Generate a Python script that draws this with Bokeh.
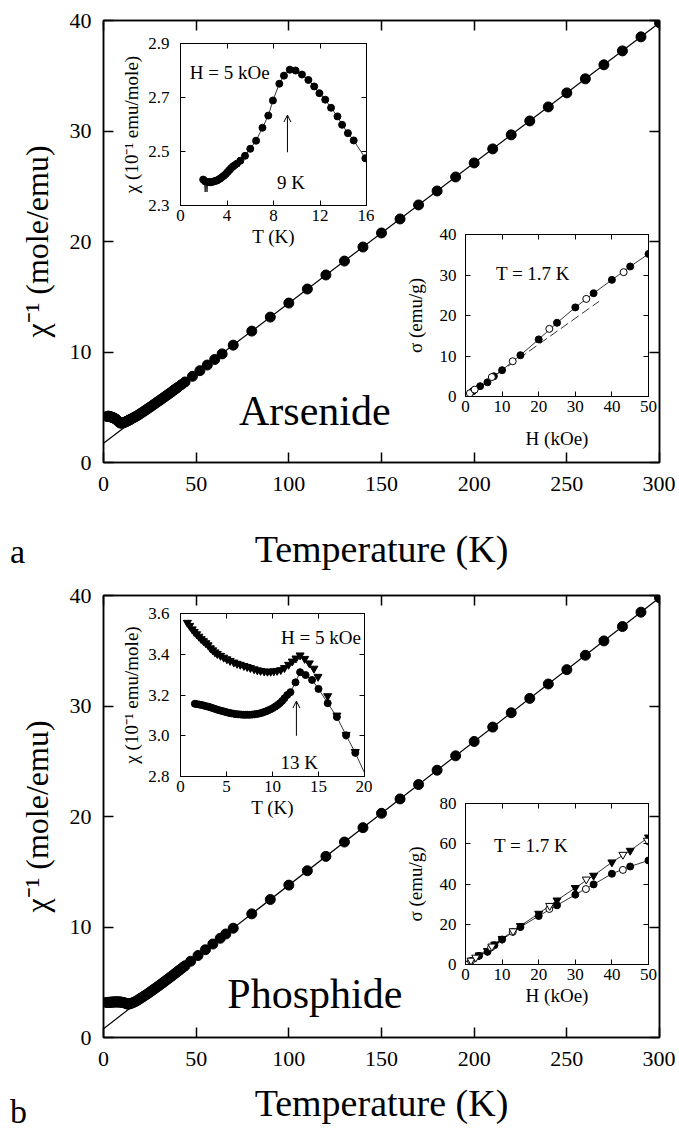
from bokeh.plotting import figure
from bokeh.models import (Range1d, FixedTicker, LinearAxis, Label, Arrow, OpenHead,
                          GridBox, PrintfTickFormatter, Div)
from bokeh.embed import file_html
from bokeh.resources import INLINE

SERIF = "Liberation Serif"

# ---------------- data: panel a (arsenide) ----------------
a_T = [1.9, 2.2, 2.5, 2.8, 3.2, 3.6, 4.0, 4.5, 5.0, 5.5, 6.0, 6.5, 7.0, 7.5, 8.0, 8.5, 9.0, 9.5,
       10.0, 10.5, 11.0, 11.5, 12.0, 12.5, 13.0, 13.5, 14.0, 14.5, 15.0, 16.0, 17, 18, 19, 20,
       21, 22, 23, 24, 25, 26, 27, 28, 29, 30, 31, 32, 33, 34, 35, 36, 37, 38, 39, 40, 42, 44,
       48, 52, 56, 60, 64, 70, 80, 90, 100, 110, 120, 130, 140, 150, 160, 170, 180, 190, 200,
       210, 220, 230, 240, 250, 260, 270, 280, 290, 300]
a_inv = [4.17, 4.18, 4.19, 4.18, 4.17, 4.15, 4.12, 4.10, 4.07, 4.03, 3.98, 3.94, 3.87, 3.80,
         3.72, 3.64, 3.58, 3.57, 3.57, 3.59, 3.62, 3.65, 3.68, 3.72, 3.76, 3.80, 3.85, 3.90,
         3.94, 4.04, 4.12, 4.22, 4.32, 4.43, 4.54, 4.65, 4.77, 4.88, 5.00, 5.11, 5.23, 5.35,
         5.47, 5.58, 5.70, 5.82, 5.94, 6.06, 6.18, 6.30, 6.42, 6.55, 6.67, 6.79, 7.04, 7.29,
         7.80, 8.31, 8.82, 9.32, 9.83, 10.62, 11.89, 13.16, 14.43, 15.70, 16.97, 18.23, 19.50,
         20.77, 22.04, 23.31, 24.57, 25.84, 27.11, 28.38, 29.65, 30.91, 32.18, 33.45, 34.72,
         35.99, 37.25, 38.52, 39.79]
a_fit_T = [0, 300]
a_fit_inv = [1.75, 39.79]

# inset a1: chi vs T at H = 5 kOe
a1_T = [1.95, 2.1, 2.25, 2.4, 2.55, 2.7, 2.85, 3.0, 3.15, 3.3, 3.45, 3.6, 3.75, 3.9, 4.05, 4.2,
        4.35, 4.5, 4.65, 4.85, 5.15, 5.55, 6.0, 6.5, 7.05, 7.55, 7.95, 8.5, 8.9, 9.4, 9.9,
        10.45, 11.0, 11.5, 11.95, 12.45, 12.95, 13.5, 13.9, 14.4, 14.9, 15.9]
a1_chi = [2.396, 2.390, 2.388, 2.387, 2.386, 2.387, 2.389, 2.391, 2.393, 2.397, 2.401, 2.406,
          2.411, 2.417, 2.424, 2.431, 2.438, 2.444, 2.449, 2.455, 2.466, 2.484, 2.510, 2.540,
          2.588, 2.633, 2.689, 2.751, 2.781, 2.803, 2.800, 2.785, 2.765, 2.741, 2.716, 2.692,
          2.662, 2.630, 2.599, 2.568, 2.541, 2.475]
a1_glitch_T = [2.05, 2.12, 2.2, 2.28, 2.36]
a1_glitch_chi = [2.39, 2.35, 2.388, 2.35, 2.387]

# inset a2: sigma vs H at 1.7 K
a2_H_f = [0, 2, 4.0, 6.0, 7.75, 10, 15, 20, 25, 30, 35, 40, 45, 50]
a2_s_f = [0, 1.3, 2.55, 3.5, 5.0, 6.5, 10.2, 14.1, 18.2, 22.0, 25.5, 28.8, 32.1, 35.2]
a2_H_o = [0, 1.2, 2.5, 7.2, 12.9, 22.9, 33.0, 43.2]
a2_s_o = [0, 0.8, 1.7, 4.8, 8.7, 16.7, 24.1, 30.7]
a2_dash_H = [0, 36.5]
a2_dash_s = [0, 23.5]

# ---------------- data: panel b (phosphide) ----------------
b_T = [1.6, 2.0, 2.5, 3.0, 3.5, 4.0, 4.5, 5.0, 5.5, 6.0, 6.5, 7.0, 7.5, 8.0, 8.5, 9.0, 9.5,
       10.0, 10.5, 11.0, 11.5, 12.0, 12.5, 13.0, 13.5, 14.0, 14.5, 15.0, 16, 17, 18, 19, 20,
       21, 22, 23, 24, 25, 26, 27, 28, 29, 30, 31, 32, 33, 34, 35, 36, 37, 38, 39, 40, 41,
       42, 43, 44, 47, 51, 55, 59, 63, 66, 70, 80, 90, 100, 110, 120, 130, 140, 150, 160,
       170, 180, 190, 200, 210, 220, 230, 240, 250, 260, 270, 280, 290, 300]
b_inv = [3.17, 3.17, 3.18, 3.18, 3.19, 3.20, 3.20, 3.21, 3.21, 3.22, 3.22, 3.22, 3.22, 3.22,
         3.21, 3.21, 3.20, 3.19, 3.17, 3.15, 3.12, 3.10, 3.06, 3.02, 3.03, 3.05, 3.07, 3.10,
         3.16, 3.24, 3.33, 3.43, 3.55, 3.65, 3.76, 3.87, 3.98, 4.10, 4.22, 4.34, 4.46, 4.58,
         4.70, 4.82, 4.95, 5.07, 5.20, 5.32, 5.45, 5.58, 5.71, 5.84, 5.97, 6.10, 6.23, 6.36,
         6.49, 6.90, 7.42, 7.94, 8.46, 8.98, 9.37, 9.89, 11.19, 12.49, 13.79, 15.09, 16.39,
         17.69, 18.99, 20.29, 21.59, 22.89, 24.19, 25.49, 26.79, 28.09, 29.39, 30.69, 31.99,
         33.29, 34.59, 35.89, 37.19, 38.49, 39.79]
b_fit_T = [0, 300]
b_fit_inv = [0.79, 39.79]

# inset b1: chi vs T at H = 5 kOe (two data sets)
b1_T_tri = [0.75, 1.0, 1.27, 1.5, 1.75, 2.0, 2.25, 2.5, 2.75, 3.0, 3.25, 3.5, 3.75, 4.0, 4.35,
            4.7, 5.05, 5.4, 5.8, 6.15, 6.5, 6.9, 7.25, 7.6, 8.0, 8.35, 8.7, 9.1, 9.45, 9.8,
            10.15, 10.5, 10.9, 11.3, 11.75, 12.15, 12.55, 13.0, 13.5, 14.0, 14.5, 14.95,
            16.0, 17.0, 18.0, 19.0]
b1_chi_tri = [3.555, 3.540, 3.523, 3.510, 3.499, 3.487, 3.475, 3.465, 3.455, 3.445, 3.430,
              3.420, 3.410, 3.402, 3.393, 3.384, 3.376, 3.368, 3.360, 3.354, 3.349, 3.343,
              3.338, 3.333, 3.327, 3.322, 3.319, 3.316, 3.315, 3.315, 3.317, 3.319, 3.323,
              3.333, 3.349, 3.365, 3.380, 3.395, 3.378, 3.356, 3.330, 3.290, 3.195, 3.100,
              3.005, 2.921]
b1_T_cir = [1.56, 1.8, 2.05, 2.3, 2.55, 2.8, 3.05, 3.3, 3.55, 3.8, 4.05, 4.3, 4.55, 4.8, 5.05,
            5.3, 5.55, 5.8, 6.05, 6.3, 6.55, 6.8, 7.05, 7.3, 7.55, 7.8, 8.05, 8.3, 8.55, 8.8,
            9.05, 9.3, 9.55, 9.8, 10.05, 10.3, 10.55, 10.8, 11.05, 11.3, 11.6, 11.95, 12.5,
            13.0, 13.6, 14.3, 15.0, 16.0, 17.0, 18.0, 19.0, 21.0]
b1_chi_cir = [3.157, 3.155, 3.153, 3.151, 3.148, 3.145, 3.142, 3.139, 3.135, 3.131, 3.127,
              3.124, 3.121, 3.118, 3.115, 3.112, 3.110, 3.108, 3.106, 3.105, 3.104, 3.103,
              3.103, 3.103, 3.103, 3.104, 3.105, 3.107, 3.109, 3.112, 3.116, 3.120, 3.125,
              3.130, 3.136, 3.143, 3.151, 3.160, 3.171, 3.184, 3.200, 3.214, 3.262, 3.312,
              3.298, 3.274, 3.230, 3.160, 3.092, 3.002, 2.916, 2.72]

# inset b2: sigma vs H at 1.7 K
b2_H_fc = [0, 3.7, 6.0, 7.9, 10, 15, 20, 25, 30, 35, 40, 45, 50]
b2_s_fc = [0, 4.3, 6.3, 9.6, 12.4, 18.6, 24.1, 29.4, 34.7, 39.8, 45.1, 48.7, 51.7]
b2_H_ft = [0, 3.7, 6.0, 8.0, 10, 15, 20, 25, 30, 35, 40, 45, 50]
b2_s_ft = [0, 4.6, 6.8, 10.0, 12.8, 19.2, 25.3, 31.9, 38.1, 44.2, 50.8, 56.6, 63.2]
b2_H_oc = [0, 1.5, 7.0, 12.9, 22.9, 32.9, 43.0]
b2_s_oc = [0, 1.8, 8.5, 16.2, 27.6, 37.5, 47.0]
b2_H_ot = [1.5, 2.8, 7.2, 13.0, 23.0, 33.0, 43.0, 49.7]
b2_s_ot = [2.0, 3.5, 9.0, 16.6, 29.2, 42.3, 54.6, 61.6]

# tick values
main_xticks = [0, 50, 100, 150, 200, 250, 300]
main_yticks = [0, 10, 20, 30, 40]
a1_xticks = [0, 4, 8, 12, 16]
a1_yticks = [2.3, 2.5, 2.7, 2.9]
b1_xticks = [0, 5, 10, 15, 20]
b1_yticks = [2.8, 3.0, 3.2, 3.4, 3.6]
h_ticks = [0, 10, 20, 30, 40, 50]
a2_yticks = [0, 10, 20, 30, 40]
b2_yticks = [0, 20, 40, 60, 80]


def make_fig(xr, yr, fw, fh, borders, xticks, yticks, tick_font, tick_len, lw,
             xlabel, ylabel, xlabel_font, ylabel_font, x_std, y_std, xl_std, yl_std,
             yfmt=None, transparent=False):
    left, top, right, bottom = borders
    p = figure(x_range=Range1d(*xr), y_range=Range1d(*yr), frame_width=fw, frame_height=fh,
               min_border_left=left, min_border_top=top, min_border_right=right,
               min_border_bottom=bottom, toolbar_location=None, output_backend="svg",
               background_fill_color="white")
    if transparent:
        p.border_fill_alpha = 0
    p.grid.visible = False
    p.outline_line_color = "black"
    p.outline_line_width = lw
    for ax, ticks, lf in ((p.xaxis[0], xticks, xlabel_font), (p.yaxis[0], yticks, ylabel_font)):
        ax.ticker = FixedTicker(ticks=ticks)
        ax.major_tick_in = tick_len
        ax.major_tick_out = 0
        ax.major_tick_line_width = lw
        ax.minor_tick_line_color = None
        ax.axis_line_width = lw
        ax.major_label_text_font = SERIF
        ax.major_label_text_font_size = tick_font
        ax.major_label_text_color = "black"
        ax.axis_label_text_font = SERIF
        ax.axis_label_text_font_size = lf
        ax.axis_label_text_font_style = "normal"
        ax.axis_label_text_color = "black"
    p.xaxis[0].major_label_standoff = x_std
    p.yaxis[0].major_label_standoff = y_std
    p.xaxis[0].axis_label = xlabel
    p.yaxis[0].axis_label = ylabel
    p.xaxis[0].axis_label_standoff = xl_std
    p.yaxis[0].axis_label_standoff = yl_std
    if yfmt:
        p.yaxis[0].formatter = PrintfTickFormatter(format=yfmt)
    for loc, ticks in (("above", xticks), ("right", yticks)):
        ax = LinearAxis(ticker=FixedTicker(ticks=ticks), major_label_text_font_size="1px",
                        major_label_text_color=None, major_label_standoff=0,
                        major_tick_in=tick_len, major_tick_out=0,
                        major_tick_line_width=lw, minor_tick_line_color=None,
                        axis_line_width=lw)
        p.add_layout(ax, loc)
    return p


def txt(x, y, s, size, align="left"):
    return Label(x=x, y=y, text=s, text_align=align, text_baseline="middle",
                 text_font=SERIF, text_font_size=size, text_color="black",
                 text_font_style="normal")


def letter(s):
    return Div(text=s, width=40, height=36, margin=0,
               styles={"font-family": SERIF, "font-size": "34px", "line-height": "36px",
                       "color": "black"})


# ---------------- main panel a ----------------
pa = make_fig((0, 300), (0, 40), 556, 442, (103, 20, 16, 113), main_xticks, main_yticks,
              "22px", 10, 1.5, "Temperature (K)", "χ⁻¹ (mole/emu)", "38px", "32px",
              14, 12, 34, 12)
pa.line(a_fit_T, a_fit_inv, line_color="black", line_width=1.2)
pa.scatter(a_T, a_inv, size=10, marker="circle", fill_color="black", line_color="black")
pa.add_layout(txt(114, 4.7, "Arsenide", "42px", "center"))

# inset a1
ia1 = make_fig((0, 16), (2.3, 2.9), 186, 162, (70, 8, 8, 62), a1_xticks, a1_yticks,
               "17px", 5, 1, "T (K)", "χ (10⁻¹ emu/mole)", "19px", "19px", 4, 11, 2, 3,
               transparent=True)
ia1.line(a1_glitch_T, a1_glitch_chi, line_color="black", line_width=0.8)
ia1.line(a1_T, a1_chi, line_color="black", line_width=0.8)
ia1.scatter(a1_T, a1_chi, size=7, marker="circle", fill_color="black", line_color="black")
ia1.add_layout(txt(0.8, 2.793, "H = 5 kOe", "19px"))
ia1.add_layout(txt(9.5, 2.385, "9 K", "19px", "center"))
ia1.add_layout(Arrow(end=OpenHead(size=7, line_width=1), x_start=9.2, y_start=2.497,
                     x_end=9.2, y_end=2.635, line_width=1))

# inset a2
ia2 = make_fig((0, 50), (0, 40), 187, 162, (60, 8, 8, 62), h_ticks, a2_yticks,
               "17px", 5, 1, "H (kOe)", "σ (emu/g)", "19px", "19px", 4, 9, 13, 11,
               transparent=True)
ia2.line(a2_dash_H, a2_dash_s, line_color="black", line_width=0.8, line_dash="9 4")
ia2.line(a2_H_f, a2_s_f, line_color="black", line_width=0.8)
ia2.scatter(a2_H_f, a2_s_f, size=7, marker="circle", fill_color="black", line_color="black")
ia2.scatter(a2_H_o, a2_s_o, size=7, marker="circle", fill_color="white", line_color="black")
ia2.add_layout(txt(8.3, 30.4, "T = 1.7 K", "19px"))

# ---------------- main panel b ----------------
pb = make_fig((0, 300), (0, 40), 556, 442, (103, 20, 16, 93), main_xticks, main_yticks,
              "22px", 10, 1.5, "Temperature (K)", "χ⁻¹ (mole/emu)", "38px", "32px",
              14, 12, 13, 12)
pb.line(b_fit_T, b_fit_inv, line_color="black", line_width=1.2)
pb.scatter(b_T, b_inv, size=10, marker="circle", fill_color="black", line_color="black")
pb.add_layout(txt(114, 3.9, "Phosphide", "42px", "center"))

# inset b1
ib1 = make_fig((0, 20), (2.8, 3.6), 184, 163, (70, 8, 8, 62), b1_xticks, b1_yticks,
               "17px", 5, 1, "T (K)", "χ (10⁻¹ emu/mole)", "19px", "19px", 4, 11, 2, 3,
               yfmt="%.1f", transparent=True)
ib1.line(b1_T_cir, b1_chi_cir, line_color="black", line_width=0.8)
ib1.scatter(b1_T_tri, b1_chi_tri, size=8, marker="inverted_triangle", fill_color="black",
            line_color="black")
ib1.scatter(b1_T_cir, b1_chi_cir, size=7, marker="circle", fill_color="black",
            line_color="black")
ib1.add_layout(txt(19.6, 3.48, "H = 5 kOe", "19px", "right"))
ib1.add_layout(txt(12.9, 2.87, "13 K", "19px", "center"))
ib1.add_layout(Arrow(end=OpenHead(size=7, line_width=1), x_start=12.6, y_start=3.0,
                     x_end=12.6, y_end=3.17, line_width=1))

# inset b2
ib2 = make_fig((0, 50), (0, 80), 187, 161, (60, 8, 8, 62), h_ticks, b2_yticks,
               "17px", 5, 1, "H (kOe)", "σ (emu/g)", "19px", "19px", 4, 9, 2, 11,
               transparent=True)
ib2.line(b2_H_ft, b2_s_ft, line_color="black", line_width=0.8)
ib2.line(b2_H_fc, b2_s_fc, line_color="black", line_width=0.8)
ib2.scatter(b2_H_fc, b2_s_fc, size=7, marker="circle", fill_color="black", line_color="black")
ib2.scatter(b2_H_ft, b2_s_ft, size=8, marker="inverted_triangle", fill_color="black",
            line_color="black")
ib2.scatter(b2_H_oc, b2_s_oc, size=7, marker="circle", fill_color="white", line_color="black")
ib2.scatter(b2_H_ot, b2_s_ot, size=8, marker="inverted_triangle", fill_color="white",
            line_color="black")
ib2.add_layout(txt(7.8, 59, "T = 1.7 K", "19px"))

# page grid: overlapping cells place each inset over its main panel
grid = GridBox(children=[(pa, 0, 0, 6, 6), (ia1, 1, 2, 2, 1), (ia2, 2, 4, 2, 1),
                         (letter("a"), 5, 1),
                         (pb, 6, 0, 6, 6), (ib1, 7, 2, 2, 1), (ib2, 8, 4, 2, 1),
                         (letter("b"), 11, 1)],
               rows=["35px", "191px", "41px", "191px", "76px", "41px",
                     "30px", "190px", "43px", "188px", "68px", "36px"],
               cols=["10px", "100px", "264px", "27px", "255px", "19px"], spacing=0)

open("out.html", "w").write(file_html(grid, INLINE))
